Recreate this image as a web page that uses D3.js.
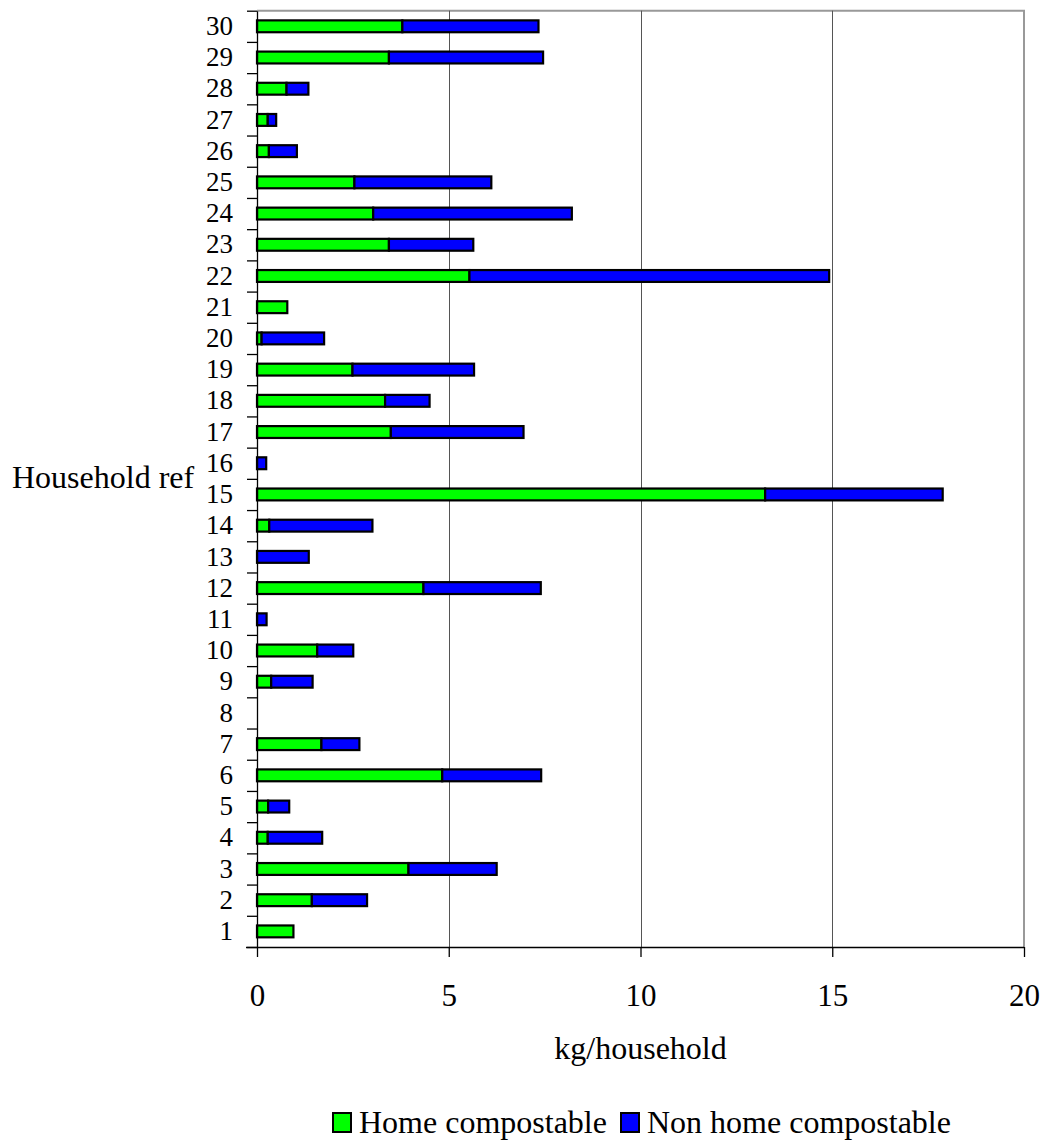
<!DOCTYPE html>
<html>
<head>
<meta charset="utf-8">
<script src="https://cdn.jsdelivr.net/npm/d3@7"></script>
<style>
  html, body { margin: 0; padding: 0; background: #fff; }
  svg { display: block; }
  text { font-family: "Liberation Serif", "Times New Roman", serif; fill: #000; }
</style>
</head>
<body>
<svg id="chart" width="1046" height="1142"></svg>
<script>
// Household references, bottom (1) to top (30)
const households = d3.range(1, 31).map(String);

// kg per household, indexed by household 1..30
const homeCompostable = [
  0.95, 1.43, 3.95, 0.28, 0.29, 4.83, 1.68, 0, 0.37, 1.57,
  0, 4.34, 0, 0.32, 13.25, 0, 3.49, 3.34, 2.49, 0.12,
  0.79, 5.54, 3.44, 3.03, 2.54, 0.31, 0.28, 0.77, 3.44, 3.79
];
const nonHomeCompostable = [
  0, 1.44, 2.30, 1.42, 0.55, 2.58, 0.99, 0, 1.08, 0.94,
  0.25, 3.06, 1.35, 2.69, 4.63, 0.24, 3.46, 1.16, 3.17, 1.63,
  0, 9.38, 2.20, 5.18, 3.57, 0.73, 0.22, 0.57, 4.02, 3.55
];

const seriesNames = ["Home compostable", "Non home compostable"];
const seriesColors = ["#00ff00", "#0000ff"];
const xTicks = [0, 5, 10, 15, 20];

const rows = households.map((h, i) => ({
  household: h,
  "Home compostable": homeCompostable[i],
  "Non home compostable": nonHomeCompostable[i]
}));

const svg = d3.select("#chart");
const plotLeft = 257, plotRight = 1024, plotTop = 10.7, plotBottom = 947;

const x = d3.scaleLinear().domain([0, 20]).range([plotLeft, plotRight]);
const y = d3.scaleBand()
  .domain(households.slice().reverse())
  .range([plotTop, plotBottom])
  .paddingInner(0.62)
  .paddingOuter(0.31);
// category boundaries (for tick marks between households)
const yEdge = d3.scaleLinear().domain([0, 30]).range([plotBottom, plotTop]);

// plot frame: top and right edges
svg.append("path")
  .attr("d", `M${plotLeft},${plotTop}H${plotRight}V${plotBottom}`)
  .attr("fill", "none")
  .attr("stroke", "#999")
  .attr("stroke-width", 2);

// vertical gridlines
svg.append("g")
  .selectAll("line")
  .data(xTicks.filter(t => t > 0 && t < 20))
  .join("line")
  .attr("x1", d => Math.round(x(d)) + 0.5)
  .attr("x2", d => Math.round(x(d)) + 0.5)
  .attr("y1", plotTop)
  .attr("y2", plotBottom)
  .attr("stroke", "#555")
  .attr("stroke-width", 1);

// stacked bars
const stack = d3.stack().keys(seriesNames);
const layers = stack(rows);

svg.append("g")
  .selectAll("g")
  .data(layers)
  .join("g")
  .attr("fill", (d, i) => seriesColors[i])
  .selectAll("rect")
  .data(d => d.filter(s => s[1] - s[0] > 0))
  .join("rect")
  .attr("x", d => x(d[0]))
  .attr("y", d => y(d.data.household))
  .attr("width", d => x(d[1]) - x(d[0]))
  .attr("height", y.bandwidth())
  .attr("stroke", "#000")
  .attr("stroke-width", 2.2);

// y axis: line with tick marks at category boundaries
const yAxisTicks = svg.append("g")
  .attr("transform", `translate(${plotLeft},0)`)
  .call(d3.axisLeft(yEdge).tickValues(d3.range(0, 31)).tickFormat("").tickSize(10).tickSizeOuter(0));
yAxisTicks.selectAll("line, path").attr("stroke", "#000").attr("stroke-width", 1.3);

// y axis labels centred on each category
const yLabels = svg.append("g")
  .attr("transform", `translate(${plotLeft},0)`)
  .call(d3.axisLeft(y).tickSize(0).tickPadding(24));
yLabels.select(".domain").remove();
yLabels.selectAll("text").style("font-size", "27px");

// x axis
const xAxis = svg.append("g")
  .attr("transform", `translate(0,${plotBottom})`)
  .call(d3.axisBottom(x).tickValues(xTicks).tickSize(10).tickSizeOuter(0).tickPadding(27));
xAxis.select(".domain").attr("d", `M${plotLeft - 11},0.5H${plotRight}`);
xAxis.selectAll("line, path").attr("stroke", "#000").attr("stroke-width", 1.3);
xAxis.selectAll("text").style("font-size", "31px");

// axis titles
svg.append("text")
  .attr("x", 12)
  .attr("y", 488)
  .style("font-size", "32px")
  .text("Household ref");

svg.append("text")
  .attr("x", (plotLeft + plotRight) / 2)
  .attr("y", 1059)
  .attr("text-anchor", "middle")
  .style("font-size", "32px")
  .text("kg/household");

// legend
const legendItems = [
  { name: seriesNames[0], color: seriesColors[0], x: 333 },
  { name: seriesNames[1], color: seriesColors[1], x: 621 }
];
const legend = svg.append("g");
legendItems.forEach(item => {
  legend.append("rect")
    .attr("x", item.x)
    .attr("y", 1113)
    .attr("width", 18)
    .attr("height", 19)
    .attr("fill", item.color)
    .attr("stroke", "#000")
    .attr("stroke-width", 2);
  legend.append("text")
    .attr("x", item.x + 26)
    .attr("y", 1133)
    .style("font-size", "32px")
    .text(item.name);
});
</script>
</body>
</html>
